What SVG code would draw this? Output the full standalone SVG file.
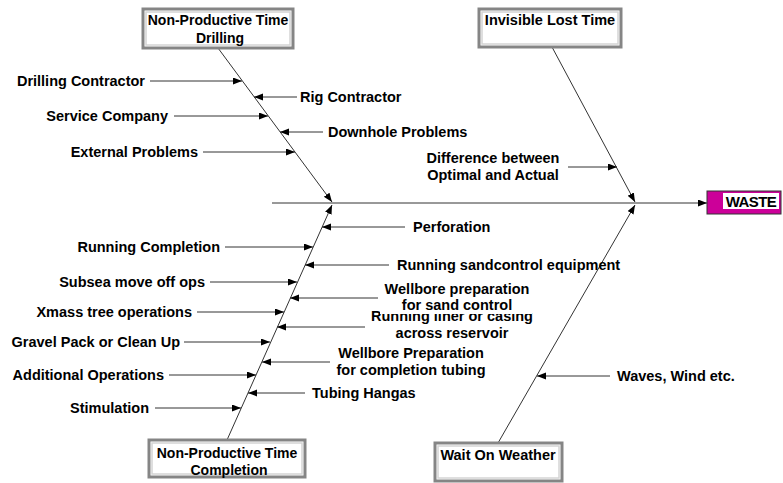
<svg xmlns="http://www.w3.org/2000/svg" width="783" height="483" viewBox="0 0 783 483">
<defs>
<style>
text{font-family:"Liberation Sans",Arial,sans-serif;font-weight:bold;font-size:14.5px;fill:#000}
.bt{font-size:14px}
.m{text-anchor:middle}
.e{text-anchor:end}
.arr{stroke:#333;stroke-width:1;fill:none;marker-end:url(#ah)}
.bo{fill:#fff;stroke:#858585;stroke-width:3}
.bi{fill:none;stroke:#d4d4d4;stroke-width:1.5}
</style>
<marker id="ah" markerUnits="userSpaceOnUse" markerWidth="10" markerHeight="8" refX="9" refY="3.5" orient="auto">
<path d="M0,0 L9,3.5 L0,7 z" fill="#000"/>
</marker>
</defs>
<rect width="783" height="483" fill="#fff"/>

<g id="connectors">
<line class="arr" x1="272" y1="203" x2="707" y2="203"/>
<line class="arr" x1="218" y1="48" x2="332" y2="202"/>
<line class="arr" x1="227" y1="440" x2="332" y2="205"/>
<line class="arr" x1="552" y1="47" x2="635" y2="202"/>
<line class="arr" x1="498" y1="443" x2="635" y2="205"/>
<line class="arr" x1="150" y1="81" x2="242" y2="81"/>
<line class="arr" x1="297" y1="97" x2="254" y2="97"/>
<line class="arr" x1="174" y1="116" x2="268" y2="116"/>
<line class="arr" x1="323" y1="132" x2="280" y2="132"/>
<line class="arr" x1="203" y1="152" x2="295" y2="152"/>
<line class="arr" x1="568" y1="167" x2="617" y2="167"/>
<line class="arr" x1="405" y1="227" x2="322" y2="227"/>
<line class="arr" x1="225" y1="247" x2="313" y2="247"/>
<line class="arr" x1="389" y1="265" x2="305" y2="265"/>
<line class="arr" x1="210" y1="282" x2="297" y2="282"/>
<line class="arr" x1="378" y1="298" x2="290" y2="298"/>
<line class="arr" x1="197" y1="312" x2="284" y2="312"/>
<line class="arr" x1="365" y1="327" x2="277" y2="327"/>
<line class="arr" x1="184" y1="342" x2="270" y2="342"/>
<line class="arr" x1="330" y1="362" x2="262" y2="362"/>
<line class="arr" x1="169" y1="375" x2="256" y2="375"/>
<line class="arr" x1="305" y1="393" x2="248" y2="393"/>
<line class="arr" x1="155" y1="408" x2="241" y2="408"/>
<line class="arr" x1="610" y1="376" x2="537" y2="376"/>
</g>

<g id="npt-drilling">
<rect class="bo" x="143" y="9" width="150" height="39"/>
<rect class="bi" x="146" y="12" width="144" height="33"/>
<text class="bt m" x="218" y="25">Non-Productive Time</text>
<text class="bt m" x="220" y="43">Drilling</text>
</g>
<g id="invisible-lost-time">
<rect class="bo" x="479" y="9" width="142" height="38"/>
<rect class="bi" x="482" y="12" width="136" height="32"/>
<text class="m" x="550" y="25">Invisible Lost Time</text>
</g>
<g id="npt-completion">
<rect class="bo" x="149" y="440" width="156" height="37"/>
<rect class="bi" x="152" y="443" width="150" height="31"/>
<text class="bt m" x="227" y="458">Non-Productive Time</text>
<text class="bt m" x="229" y="475">Completion</text>
</g>
<g id="wait-on-weather">
<rect class="bo" x="435" y="443" width="127" height="38"/>
<rect class="bi" x="438" y="446" width="121" height="32"/>
<text class="m" x="498" y="460">Wait On Weather</text>
</g>
<g id="waste">
<rect x="707" y="191" width="74" height="23" fill="#cc0099" stroke="#333" stroke-width="1"/>
<rect x="723" y="193" width="56" height="16" fill="#fff"/>
<text class="m" x="751" y="207" style="font-size:15px;letter-spacing:-0.6px">WASTE</text>
</g>

<g id="drilling-causes">
<text class="e" x="145" y="86">Drilling Contractor</text>
<text x="300" y="102">Rig Contractor</text>
<text class="e" x="168" y="121">Service Company</text>
<text x="328" y="137">Downhole Problems</text>
<text class="e" x="198" y="157">External Problems</text>
</g>
<g id="invisible-causes">
<text class="m" x="493" y="163">Difference between</text>
<text class="m" x="493" y="180">Optimal and Actual</text>
</g>
<g id="completion-causes">
<text x="413" y="232">Perforation</text>
<text class="e" x="220" y="252">Running Completion</text>
<text x="397" y="270">Running sandcontrol equipment</text>
<text class="e" x="205" y="287">Subsea move off ops</text>
<text class="e" x="192" y="317">Xmass tree operations</text>
<text class="m" x="452" y="321">Running liner or casing</text>
<text class="m" x="452" y="338">across reservoir</text>
<rect x="380" y="280" width="152" height="34" fill="#fff"/>
<text class="m" x="457" y="294">Wellbore preparation</text>
<text class="m" x="457" y="310">for sand control</text>
<text class="e" x="180" y="347">Gravel Pack or Clean Up</text>
<text class="m" x="411" y="358">Wellbore Preparation</text>
<text class="m" x="411" y="375">for completion tubing</text>
<text class="e" x="164" y="380">Additional Operations</text>
<text x="312" y="398">Tubing Hangas</text>
<text class="e" x="149" y="413">Stimulation</text>
</g>
<g id="weather-causes">
<text x="617" y="381">Waves, Wind etc.</text>
</g>
</svg>
